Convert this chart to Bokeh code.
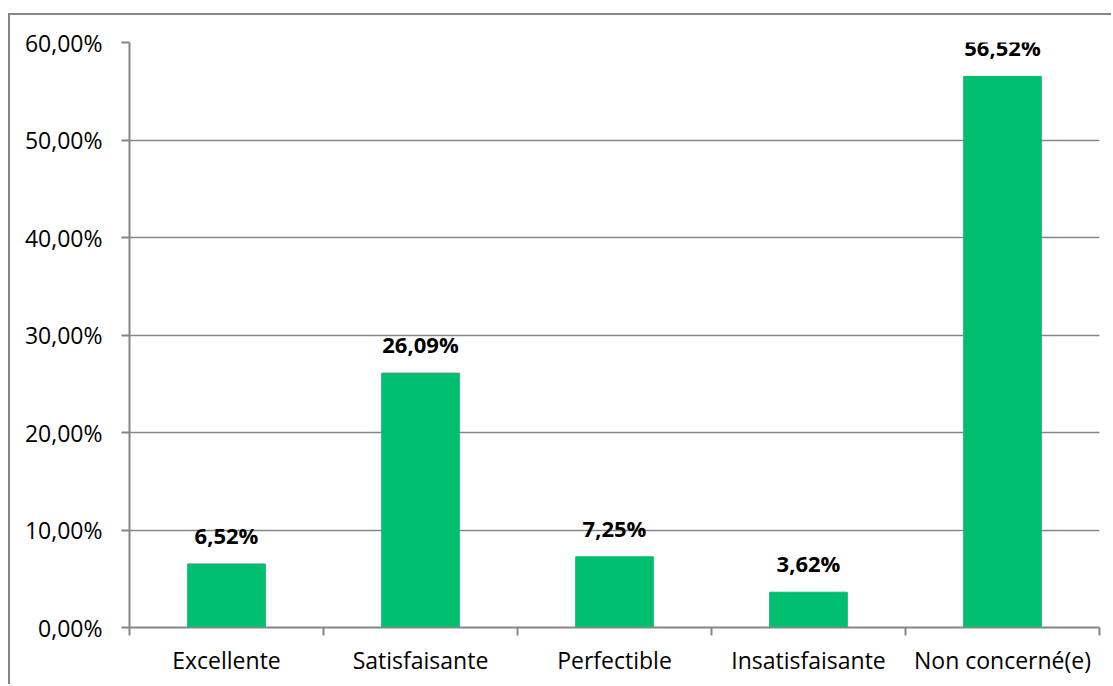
from bokeh.plotting import figure
from bokeh.models import ColumnDataSource, FixedTicker, CustomJSTickFormatter, Range1d
from bokeh.core.properties import value
from bokeh.embed import file_html
from bokeh.resources import INLINE

categories = ["Excellente", "Satisfaisante", "Perfectible", "Insatisfaisante", "Non concerné(e)"]
percentages = [6.52, 26.09, 7.25, 3.62, 56.52]
y_ticks = [0, 10, 20, 30, 40, 50, 60]

FONT = "Open Sans"
GRAY = "#868686"
GREEN = "#00BF6F"

xs = [i + 0.5 for i in range(len(categories))]
labels = [f"{v:.2f}".replace(".", ",") + "%" for v in percentages]
src = ColumnDataSource(dict(x=xs, top=percentages, label=labels))

p = figure(width=1103, height=671, output_backend="svg", toolbar_location=None,
           x_range=Range1d(0, len(categories)), y_range=Range1d(0, 60),
           min_border_left=119, min_border_right=14, min_border_top=27, min_border_bottom=59,
           styles={"border-left": f"2px solid {GRAY}", "border-top": f"2px solid {GRAY}",
                   "margin-top": "13px", "margin-left": "8px"})
p.outline_line_color = None
p.background_fill_color = "white"
p.border_fill_color = "white"

p.vbar(x="x", top="top", width=0.4, source=src, color=GREEN)
p.text(x="x", y="top", text="label", source=src, text_align="center",
       text_baseline="alphabetic", y_offset=-29, text_font=value(FONT),
       text_font_size="22px", text_font_style="bold", text_color="black")

# y axis
p.yaxis.ticker = FixedTicker(ticks=y_ticks)
p.yaxis.formatter = CustomJSTickFormatter(code="return tick.toFixed(2).replace('.', ',') + '%';")
p.yaxis.axis_line_color = GRAY
p.yaxis.axis_line_width = 2
p.yaxis.major_tick_line_color = GRAY
p.yaxis.major_tick_line_width = 2
p.yaxis.major_tick_in = 0
p.yaxis.major_tick_out = 8
p.yaxis.minor_tick_line_color = None
p.yaxis.major_label_standoff = 19
p.yaxis.major_label_text_font = FONT
p.yaxis.major_label_text_font_size = "23px"
p.yaxis.major_label_text_color = "black"

# x axis
p.xaxis.ticker = FixedTicker(ticks=xs, minor_ticks=list(range(len(categories) + 1)))
p.xaxis.major_label_overrides = {x: c for x, c in zip(xs, categories)}
p.xaxis.axis_line_color = GRAY
p.xaxis.axis_line_width = 2
p.xaxis.major_tick_line_color = None
p.xaxis.minor_tick_line_color = GRAY
p.xaxis.minor_tick_line_width = 2
p.xaxis.minor_tick_in = 0
p.xaxis.minor_tick_out = 8
p.xaxis.major_tick_out = 8
p.xaxis.major_tick_in = 0
p.xaxis.major_label_standoff = 8
p.xaxis.major_label_text_font = FONT
p.xaxis.major_label_text_font_size = "23px"
p.xaxis.major_label_text_color = "black"

p.xgrid.grid_line_color = None
p.ygrid.ticker = FixedTicker(ticks=y_ticks)
p.ygrid.grid_line_color = GRAY
p.ygrid.grid_line_width = 1.5

open("out.html", "w").write(file_html(p, INLINE))
